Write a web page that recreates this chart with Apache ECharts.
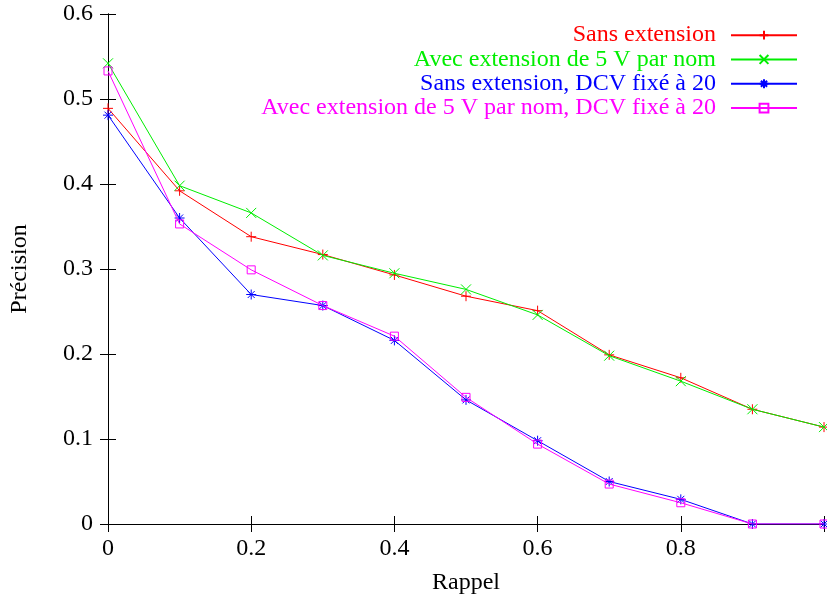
<!DOCTYPE html>
<html>
<head>
<meta charset="utf-8">
<script src="https://cdn.jsdelivr.net/npm/echarts@6/dist/echarts.min.js"></script>
<style>html,body{margin:0;padding:0;background:#fff}#c{width:827px;height:600px}</style>
</head>
<body>
<div id="c"></div>
<script>
var rappel = [0, 0.1, 0.2, 0.3, 0.4, 0.5, 0.6, 0.7, 0.8, 0.9, 1.0];
var sansExtension = [0.489, 0.392, 0.338, 0.317, 0.293, 0.268, 0.251, 0.199, 0.172, 0.135, 0.114];
var avecExtension = [0.542, 0.398, 0.366, 0.316, 0.295, 0.276, 0.246, 0.198, 0.168, 0.135, 0.114];
var sansExtDCV = [0.481, 0.360, 0.270, 0.257, 0.216, 0.146, 0.098, 0.050, 0.029, 0.0, 0.0];
var avecExtDCV = [0.533, 0.353, 0.299, 0.257, 0.221, 0.149, 0.094, 0.047, 0.025, 0.0, 0.0];
var seriesNames = ["Sans extension", "Avec extension de 5 V par nom", "Sans extension, DCV fixé à 20", "Avec extension de 5 V par nom, DCV fixé à 20"];
var xTicks = ["0", "0.2", "0.4", "0.6", "0.8"];

var colors = ["#ff0000", "#00ee00", "#0000ff", "#ff00ff"];
var symbols = [
  "path://M5,0L5,10M0,5L10,5",
  "path://M0,0L10,10M0,10L10,0",
  "path://M5,0L5,10M0,5L10,5M1.5,1.5L8.5,8.5M1.5,8.5L8.5,1.5",
  "path://M0,0L10,0L10,10L0,10Z"
];
var allData = [sansExtension, avecExtension, sansExtDCV, avecExtDCV];
function pairs(v){ return rappel.map(function(x,i){ return [x, v[i]]; }); }

var font = "'Liberation Serif', 'DejaVu Serif', serif";
var series = allData.map(function(d, i){
  return {
    name: seriesNames[i], type: 'line', data: pairs(d),
    symbol: symbols[i], symbolSize: i === 3 ? 8 : 10,
    showAllSymbol: true,
    lineStyle: {color: colors[i], width: 1},
    itemStyle: {color: i === 3 ? 'rgba(255,255,255,0)' : colors[i], borderColor: colors[i], borderWidth: 1},
    animation: false, z: 3 + i
  };
});

var chart = echarts.init(document.getElementById('c'));
chart.setOption({
  animation: false,
  backgroundColor: '#fff',
  grid: {left: 106, top: 14, width: 726, height: 511},
  legend: {
    orient: 'vertical', right: 24, top: 18, align: 'right',
    itemWidth: 66, itemHeight: 11, itemGap: 0,
    data: seriesNames.map(function(n, i){ return {name: n, textStyle: {color: colors[i]}}; }),
    textStyle: {fontFamily: font, fontSize: 24, lineHeight: 24.3, padding: [0, 10, 0, 0]}
  },
  xAxis: [{
    type: 'value', min: 0, max: 1, interval: 0.2,
    name: 'Rappel', nameLocation: 'middle', nameGap: 47,
    nameTextStyle: {fontFamily: font, fontSize: 24, color: '#000'},
    axisLine: {lineStyle: {color: '#000', width: 1}},
    axisTick: {inside: true, length: 8, lineStyle: {color: '#000'}},
    axisLabel: {fontFamily: font, fontSize: 24, color: '#000', margin: 13,
      formatter: function(v){ var s = String(Math.round(v*10)/10); return xTicks.indexOf(s) >= 0 ? s : ''; }},
    splitLine: {show: false}
  }, {
    type: 'value', min: 0, max: 1, interval: 0.2, position: 'top',
    axisLine: {lineStyle: {color: '#000', width: 1}},
    axisTick: {inside: true, length: 8, lineStyle: {color: '#000'}},
    axisLabel: {show: false}, splitLine: {show: false}
  }],
  yAxis: [{
    type: 'value', min: 0, max: 0.6, interval: 0.1,
    name: 'Précision', nameLocation: 'middle', nameGap: 76, nameRotate: 90,
    nameTextStyle: {fontFamily: font, fontSize: 24, color: '#000'},
    axisLine: {show: true, lineStyle: {color: '#000', width: 1}},
    axisTick: {show: true, inside: true, length: 8, lineStyle: {color: '#000'}},
    axisLabel: {fontFamily: font, fontSize: 24, color: '#000', margin: 15,
      formatter: function(v){ return String(Math.round(v*10)/10); }},
    splitLine: {show: false}
  }, {
    type: 'value', min: 0, max: 0.6, interval: 0.1, position: 'right',
    axisLine: {show: true, lineStyle: {color: '#000', width: 1}},
    axisTick: {show: true, inside: true, length: 8, lineStyle: {color: '#000'}},
    axisLabel: {show: false}, splitLine: {show: false}
  }],
  series: series
});
</script>
</body>
</html>
